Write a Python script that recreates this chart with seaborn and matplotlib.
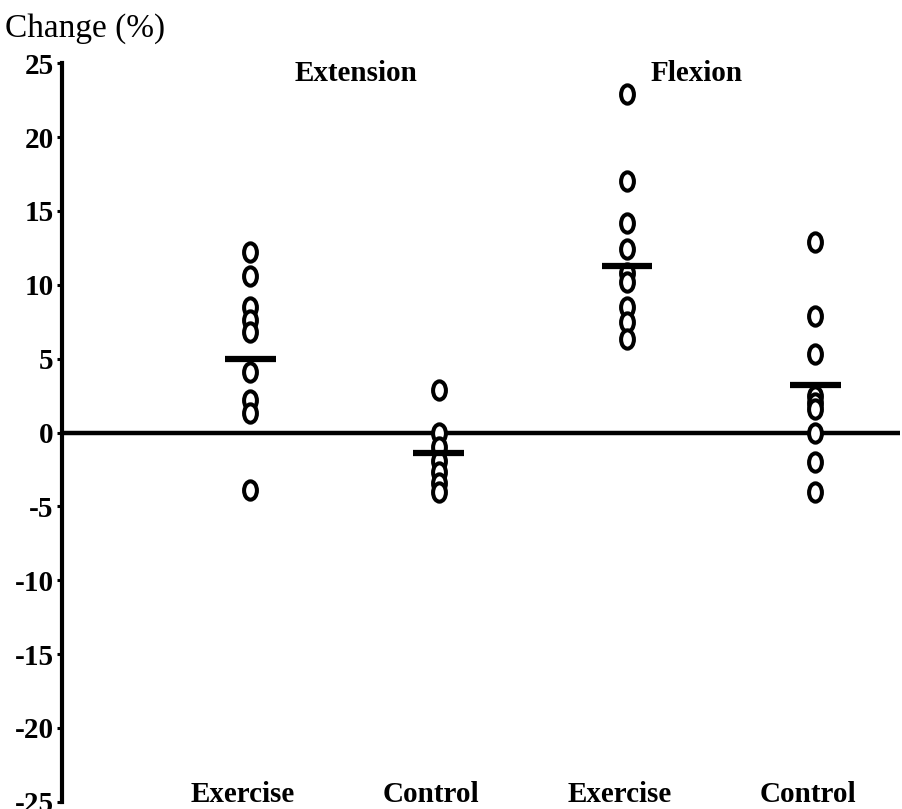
import numpy as np
import pandas as pd
import matplotlib
matplotlib.use("Agg")
import matplotlib.pyplot as plt
from matplotlib.path import Path
import seaborn as sns

# ---- data ----
categories = ["Ext-Exercise", "Ext-Control", "Flex-Exercise", "Flex-Control"]
tick_names = ["Exercise", "Control", "Exercise", "Control"]
ext_exercise = [12.2, 10.6, 8.5, 7.6, 6.8, 4.1, 2.2, 1.3, -3.9]
ext_control = [2.9, 0.0, -1.0, -1.9, -2.7, -3.4, -4.0]
flex_exercise = [22.9, 17.0, 14.2, 12.4, 10.8, 10.2, 8.5, 7.5, 6.3]
flex_control = [12.9, 7.9, 5.3, 2.5, 2.0, 1.6, 0.0, -2.0, -4.0]
group_means = [5.0, -1.4, 11.3, 3.2]
panel_titles = ["Extension", "Flexion"]
yticks = [-25, -20, -15, -10, -5, 0, 5, 10, 15, 20, 25]

series = [ext_exercise, ext_control, flex_exercise, flex_control]
df = pd.DataFrame({
    "group": np.concatenate([[c] * len(v) for c, v in zip(categories, series)]),
    "change": np.concatenate(series),
})

sns.set_style("white")
plt.rcParams["font.family"] = ["Liberation Serif", "DejaVu Serif"]
plt.rcParams["text.color"] = "black"
plt.rcParams["ytick.color"] = "black"
plt.rcParams["axes.labelcolor"] = "black"

fig = plt.figure(figsize=(9.02, 8.09), dpi=100)
ax = fig.add_axes([62 / 902, (809 - 801.7) / 809, (900 - 62) / 902, (801.7 - 63.3) / 809])

# elliptical open marker (taller than wide)
uc = Path.unit_circle()
ell = Path(uc.vertices * np.array([0.7, 1.0]), uc.codes)

ax.axhline(0, color="black", lw=3.2, zorder=1)

sns.stripplot(data=df, x="group", y="change", order=categories, jitter=False,
              marker=ell, s=13.2, color="white", edgecolor="black", linewidth=2.9,
              ax=ax, zorder=3)

ax.hlines(group_means, np.arange(4) - 0.135, np.arange(4) + 0.135,
          color="black", lw=4.5, zorder=4)

ax.set_xlim(-1.0, 3.45)
ax.set_ylim(-25, 25)
ax.set_yticks(yticks)
ax.set_yticklabels([str(t) for t in yticks], fontsize=21, fontweight="bold")
ax.set_xticks([])
ax.set_xlabel("")
ax.set_ylabel("")

for side in ["top", "right", "bottom"]:
    ax.spines[side].set_visible(False)
ax.spines["left"].set_linewidth(3)
ax.spines["left"].set_color("black")
ax.tick_params(axis="y", direction="out", length=3.5, width=2.2, pad=2.5, left=True,
               colors="black")

for i, name in enumerate(tick_names):
    ax.text(i - 0.04, -25, name, ha="center", va="baseline",
            fontsize=21, fontweight="bold")

ax.text(0.56, 24.3, panel_titles[0], ha="center", va="center", fontsize=21, fontweight="bold")
ax.text(2.37, 24.3, panel_titles[1], ha="center", va="center", fontsize=21, fontweight="bold")

fig.text(5 / 902, 1 - 29 / 809, "Change (%)", ha="left", va="center", fontsize=24)

fig.savefig("out.png", dpi=100, facecolor="white")
